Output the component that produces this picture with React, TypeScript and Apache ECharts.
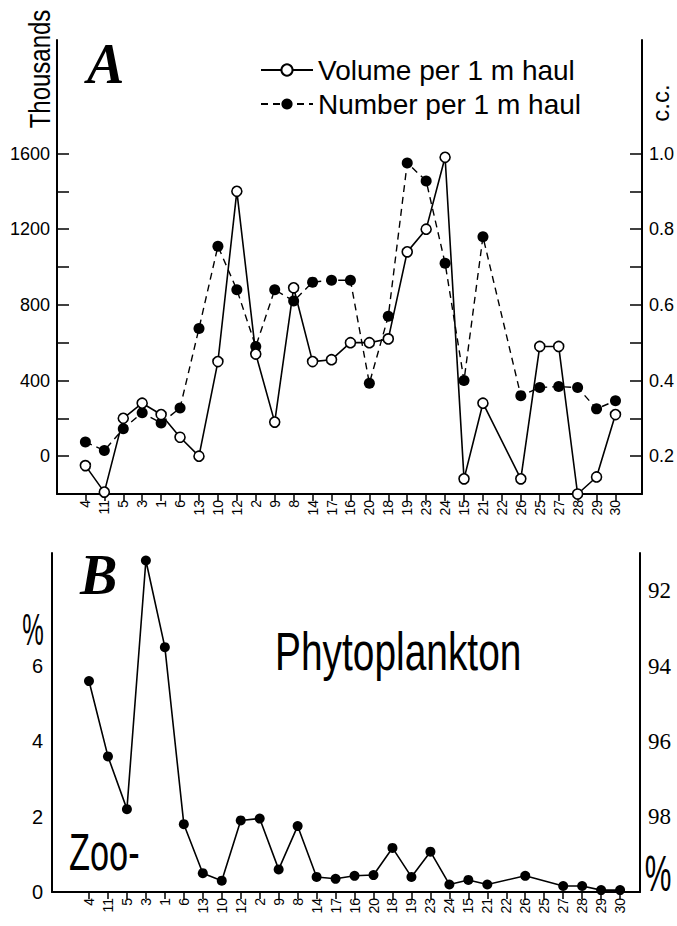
import React, { useEffect, useRef } from "react";
import * as echarts from "echarts";

const categories = ["4", "11", "5", "3", "1", "6", "13", "10", "12", "2", "9", "8", "14", "17", "16", "20", "18", "19", "23", "24", "15", "21", "22", "26", "25", "27", "28", "29", "30"];

// Panel A: volume per 1 m haul (c.c., right axis)
const volumeCC = [0.175, 0.105, 0.30, 0.34, 0.31, 0.25, 0.20, 0.45, 0.90, 0.47, 0.29, 0.645, 0.45, 0.455, 0.50, 0.50, 0.51, 0.74, 0.80, 0.99, 0.14, 0.34, null, 0.14, 0.49, 0.49, 0.10, 0.145, 0.31];
// Panel A: number per 1 m haul (thousands, left axis)
const numberK = [75, 30, 145, 230, 175, 255, 675, 1110, 880, 580, 880, 820, 920, 930, 930, 385, 740, 1550, 1455, 1020, 400, 1160, null, 320, 363, 368, 363, 250, 293];
// Panel B: zooplankton percentage
const zooPct = [5.6, 3.6, 2.2, 8.8, 6.5, 1.8, 0.5, 0.3, 1.9, 1.95, 0.6, 1.75, 0.4, 0.35, 0.43, 0.45, 1.17, 0.4, 1.07, 0.2, 0.32, 0.2, null, 0.43, null, 0.16, 0.16, 0.05, 0.05];

const leftTicksA = [0, 200, 400, 600, 800, 1000, 1200, 1400, 1600];
const leftLabelsA = [0, 400, 800, 1200, 1600];
const rightTicksA = [0.2, 0.3, 0.4, 0.5, 0.6, 0.7, 0.8, 0.9, 1.0];
const rightLabelsA = [0.2, 0.4, 0.6, 0.8, 1.0];
const leftLabelsB = [0, 2, 4, 6];
const rightLabelsB = [92, 94, 96, 98];

const FONT = '"Liberation Sans", Arial, "DejaVu Sans", sans-serif';
const SERIF = '"Liberation Serif", "DejaVu Serif", serif';

export default function App() {
  const ref = useRef<HTMLDivElement>(null);
  useEffect(() => {
    if (!ref.current) return;
    const chart = echarts.init(ref.current, null, { renderer: "svg" });
    const idx = categories.map((_, i) => i);
    const pair = (arr: (number | null)[]) => arr.map((v, i) => [i, v]);
    const catLabel = {
      customValues: idx,
      rotate: 90,
      formatter: (v: number) => categories[Math.round(v)] ?? "",
      color: "#000",
      fontFamily: FONT,
      fontSize: 14,
      margin: 6,
    };
    const axisLine = { show: true, onZero: false, lineStyle: { color: "#000", width: 2 } };
    const labelStyle = { color: "#000", fontFamily: FONT, fontSize: 18 };

    chart.setOption({
      animation: false,
      backgroundColor: "#fff",
      grid: [
        { left: 57, right: 34, top: 40, bottom: 432 },
        { left: 52, right: 37, top: 553, bottom: 34 },
      ],
      xAxis: [
        {
          type: "value", gridIndex: 0, min: -1.5, max: 29.4,
          axisLine, splitLine: { show: false },
          axisTick: { show: true, customValues: idx, length: 7, lineStyle: { color: "#000", width: 1.5 } },
          axisLabel: catLabel,
        },
        {
          type: "value", gridIndex: 1, min: -1.95, max: 29.05,
          axisLine, splitLine: { show: false },
          axisTick: { show: true, customValues: idx, length: 7, lineStyle: { color: "#000", width: 1.5 } },
          axisLabel: catLabel,
        },
      ],
      yAxis: [
        {
          type: "value", gridIndex: 0, position: "left", min: -200, max: 2200,
          axisLine, splitLine: { show: false },
          axisTick: { show: true, inside: true, length: 12, customValues: leftTicksA, lineStyle: { color: "#000", width: 1.5 } },
          axisLabel: { ...labelStyle, customValues: leftLabelsA, margin: 7, formatter: (v: number) => String(v) },
        },
        {
          type: "value", gridIndex: 0, position: "right", min: 0.1, max: 1.3,
          axisLine, splitLine: { show: false },
          axisTick: { show: true, inside: true, length: 12, customValues: rightTicksA, lineStyle: { color: "#000", width: 1.5 } },
          axisLabel: { ...labelStyle, customValues: rightLabelsA, margin: 7, formatter: (v: number) => v.toFixed(1) },
        },
        {
          type: "value", gridIndex: 1, position: "left", min: 0, max: 9,
          axisLine, splitLine: { show: false }, axisTick: { show: false },
          axisLabel: { ...labelStyle, fontSize: 20, customValues: leftLabelsB, margin: 9, formatter: (v: number) => String(v) },
        },
        {
          type: "value", gridIndex: 1, position: "right", min: 91, max: 100, inverse: true,
          axisLine, splitLine: { show: false }, axisTick: { show: false },
          axisLabel: { ...labelStyle, fontSize: 23, fontFamily: SERIF, customValues: rightLabelsB, margin: 8, formatter: (v: number) => String(v) },
        },
      ],
      legend: {
        orient: "vertical",
        left: 255,
        top: 51,
        itemWidth: 52,
        itemHeight: 14,
        itemGap: 6,
        textStyle: { color: "#000", fontFamily: FONT, fontSize: 28 },
        data: ["Volume per 1 m haul", "Number per 1 m haul"],
      },
      series: [
        {
          name: "Volume per 1 m haul", type: "line", xAxisIndex: 0, yAxisIndex: 1,
          data: pair(volumeCC), connectNulls: true,
          symbol: "circle", symbolSize: 10, showSymbol: true,
          lineStyle: { color: "#000", width: 1.6, type: "solid" },
          itemStyle: { color: "#fff", borderColor: "#000", borderWidth: 1.6 },
          z: 3,
        },
        {
          name: "Number per 1 m haul", type: "line", xAxisIndex: 0, yAxisIndex: 0,
          data: pair(numberK), connectNulls: true,
          symbol: "circle", symbolSize: 11,
          lineStyle: { color: "#000", width: 1.4, type: [7, 5] },
          itemStyle: { color: "#000", borderColor: "#000", borderWidth: 0 },
          z: 2,
        },
        {
          name: "Zooplankton %", type: "line", xAxisIndex: 1, yAxisIndex: 2,
          data: pair(zooPct), connectNulls: true,
          symbol: "circle", symbolSize: 10,
          lineStyle: { color: "#000", width: 1.6 },
          itemStyle: { color: "#000" },
        },
      ],
      graphic: [
        { type: "text", x: 87, y: 36, style: { text: "A", fill: "#000", fontFamily: SERIF, fontStyle: "italic", fontWeight: "bold", fontSize: 56 } },
        { type: "text", x: 40, y: 69, rotation: Math.PI / 2, scaleX: 0.8, style: { text: "Thousands", fill: "#000", fontFamily: FONT, fontSize: 30, align: "center", verticalAlign: "middle" } },
        { type: "text", x: 660, y: 103, rotation: Math.PI / 2, style: { text: "c.c.", fill: "#000", fontFamily: FONT, fontSize: 24, align: "center", verticalAlign: "middle" } },
        { type: "text", x: 80, y: 547, style: { text: "B", fill: "#000", fontFamily: SERIF, fontStyle: "italic", fontWeight: "bold", fontSize: 56 } },
        { type: "text", x: 33, y: 630, scaleX: 0.55, style: { text: "%", fill: "#000", fontFamily: FONT, fontSize: 44, align: "center", verticalAlign: "middle" } },
        { type: "text", x: 658, y: 874, scaleX: 0.6, style: { text: "%", fill: "#000", fontFamily: FONT, fontSize: 50, align: "center", verticalAlign: "middle" } },
        { type: "text", x: 275, y: 624, scaleX: 0.72, style: { text: "Phytoplankton", fill: "#000", fontFamily: FONT, fontSize: 54 } },
        { type: "text", x: 69, y: 826, scaleX: 0.66, style: { text: "Zoo-", fill: "#000", fontFamily: FONT, fontSize: 52 } },
      ],
    });
    return () => chart.dispose();
  }, []);
  return (
    <div
      ref={ref}
      style={{ position: "fixed", left: 0, top: 0, width: 677, height: 926, background: "#fff" }}
    />
  );
}
